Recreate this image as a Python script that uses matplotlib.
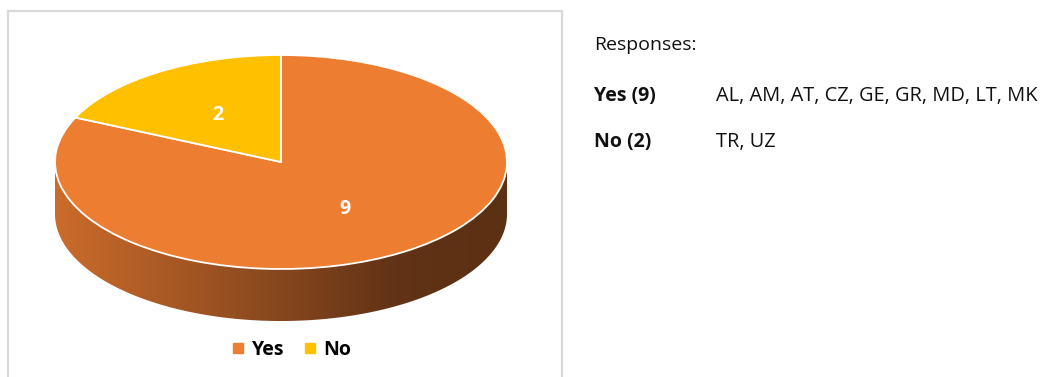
import matplotlib.pyplot as plt
import numpy as np
from matplotlib.patches import Polygon, Rectangle
from matplotlib.lines import Line2D
from matplotlib.colors import LinearSegmentedColormap

labels = ['Yes', 'No']
counts = [9, 2]
colors = ['#ed7d31', '#ffc000']
countries = ['AL, AM, AT, CZ, GE, GR, MD, LT, MK', 'TR, UZ']

plt.rcParams['font.family'] = ['Open Sans', 'DejaVu Sans']

W, H = 1047, 377
fig = plt.figure(figsize=(W / 100, H / 100), dpi=100)
fig.patch.set_facecolor('white')

# chart frame (bottom edge runs off the image)
fig.add_artist(Rectangle((8 / W, -0.05), (562 - 8) / W, 1.05 - 11 / H,
                         transform=fig.transFigure, facecolor='none',
                         edgecolor='#d9d9d9', linewidth=1.6))

# pie axes: top face spans 55..507 px wide, 55..269 px tall, depth ~52 px
depth = 52 / 107
ax = fig.add_axes([55 / W, (H - 321) / H, 452 / W, 266 / H])

# side wall with left-to-right gradient
t = np.linspace(np.pi, 2 * np.pi, 300)
top = np.column_stack([np.cos(t), np.sin(t)])
bot = np.column_stack([np.cos(t[::-1]), np.sin(t[::-1]) - depth])
side = Polygon(np.vstack([top, bot]), closed=True, facecolor='none',
               edgecolor='none', transform=ax.transData)
ax.add_patch(side)
cmap = LinearSegmentedColormap.from_list(
    'side', [(0, '#cb6c2b'), (0.45, '#8d4a1f'), (0.75, '#623316'), (1, '#5c3013')])
grad = np.linspace(0, 1, 256).reshape(1, -1)
im = ax.imshow(grad, cmap=cmap, extent=(-1, 1, -1 - depth, 0), aspect='auto', zorder=0)
im.set_clip_path(side)

total = sum(counts)
wedges, texts, autotexts = ax.pie(
    counts, colors=colors, startangle=90, counterclock=False,
    autopct=lambda p: f'{round(p * total / 100)}', pctdistance=0.52,
    wedgeprops=dict(edgecolor='white', linewidth=1.3),
    textprops=dict(color='white', fontsize=14, fontweight='bold'))
ax.set_aspect('auto')
ax.set_xlim(-1, 1)
ax.set_ylim(-1 - depth, 1)
ax.axis('off')

# legend below the pie
handles = [Line2D([], [], marker='s', linestyle='none', markersize=6.5,
                  markerfacecolor=c, markeredgecolor=c) for c in colors]
fig.legend(handles, labels, loc='center', bbox_to_anchor=(292 / W, 1 - 350 / H),
           ncol=2, frameon=False, handlelength=0.6, handletextpad=0.4,
           columnspacing=1.0, prop=dict(size=14, weight='bold'))

# response text on the right
fig.text(594 / W, 1 - 45 / H, 'Responses:', fontsize=14, va='center', color='#111111')
rows_y = [96, 142]
for lab, n, cty, y in zip(labels, counts, countries, rows_y):
    fig.text(594 / W, 1 - y / H, f'{lab} ({n})', fontsize=14, fontweight='bold',
             va='center', color='#111111')
    fig.text(716 / W, 1 - y / H, cty, fontsize=14.4, va='center', color='#111111')

fig.savefig('out.png', dpi=100, facecolor='white')
